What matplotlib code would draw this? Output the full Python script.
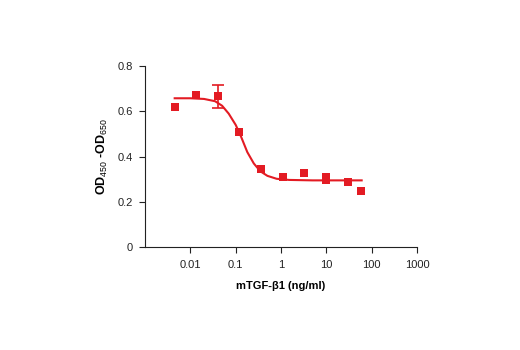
import matplotlib
matplotlib.use("Agg")
import matplotlib.pyplot as plt
from matplotlib import font_manager

# pick a narrow font if one is there
names = set(f.name for f in font_manager.fontManager.ttflist)
fam = 'Liberation Sans Narrow' if 'Liberation Sans Narrow' in names else 'Liberation Sans'
plt.rcParams['font.family'] = [fam, 'DejaVu Sans']
plt.rcParams['mathtext.fontset'] = 'custom'
plt.rcParams['mathtext.rm'] = fam
plt.rcParams['mathtext.bf'] = fam + ':bold'

# measured points
conc = [0.0045, 0.0135, 0.041, 0.12, 0.37, 1.1, 3.2, 10, 10, 30, 57]
od = [0.62, 0.672, 0.667, 0.51, 0.345, 0.312, 0.328, 0.31, 0.295, 0.29, 0.247]
err_x = [0.041]
err_y = [0.667]
err = [0.05]

# fitted curve
fit_x = [0.0045, 0.01, 0.02, 0.035, 0.05, 0.07, 0.1, 0.13, 0.18, 0.25,
         0.35, 0.5, 0.8, 1.5, 5, 20, 60]
fit_y = [0.658, 0.658, 0.655, 0.645, 0.625, 0.59, 0.54, 0.49, 0.42, 0.37,
         0.335, 0.315, 0.302, 0.297, 0.295, 0.295, 0.295]

xticks = [0.01, 0.1, 1, 10, 100, 1000]
xticklabels = ['0.01', '0.1', '1', '10', '100', '1000']
yticks = [0, 0.2, 0.4, 0.6, 0.8]
yticklabels = ['0', '0.2', '0.4', '0.6', '0.8']

red = '#e31b23'

fig = plt.figure(figsize=(5.2, 3.5), dpi=100)
ax = fig.add_axes([0.279, 0.294, 0.523, 0.517])

ax.plot(fit_x, fit_y, color=red, lw=1.5, zorder=2)
ax.errorbar(err_x, err_y, yerr=err, fmt='none', ecolor=red, elinewidth=1.2,
            capsize=4, capthick=1.2, zorder=2)
ax.plot(conc, od, 's', color=red, markersize=6, markeredgewidth=0, zorder=3)

ax.set_xscale('log')
ax.set_xlim(0.001, 1000)
ax.set_ylim(0, 0.8)
ax.set_xticks(xticks)
ax.set_xticklabels(xticklabels)
ax.minorticks_off()
ax.set_yticks(yticks)
ax.set_yticklabels(yticklabels)

for s in ['top', 'right']:
    ax.spines[s].set_visible(False)
for s in ['left', 'bottom']:
    ax.spines[s].set_linewidth(0.8)
    ax.spines[s].set_color('#222222')
ax.tick_params(direction='out', length=4, width=0.8, labelsize=8, colors='#222222',
               pad=5)

ax.set_xlabel('mTGF-\u03b21 (ng/ml)', fontsize=8, fontweight='bold', labelpad=8,
              family=[fam, 'DejaVu Sans'])
ax.set_ylabel(r'OD$_{450}$ -OD$_{650}$', fontsize=9, fontweight='bold', labelpad=5)

fig.savefig('out.png', dpi=100)
